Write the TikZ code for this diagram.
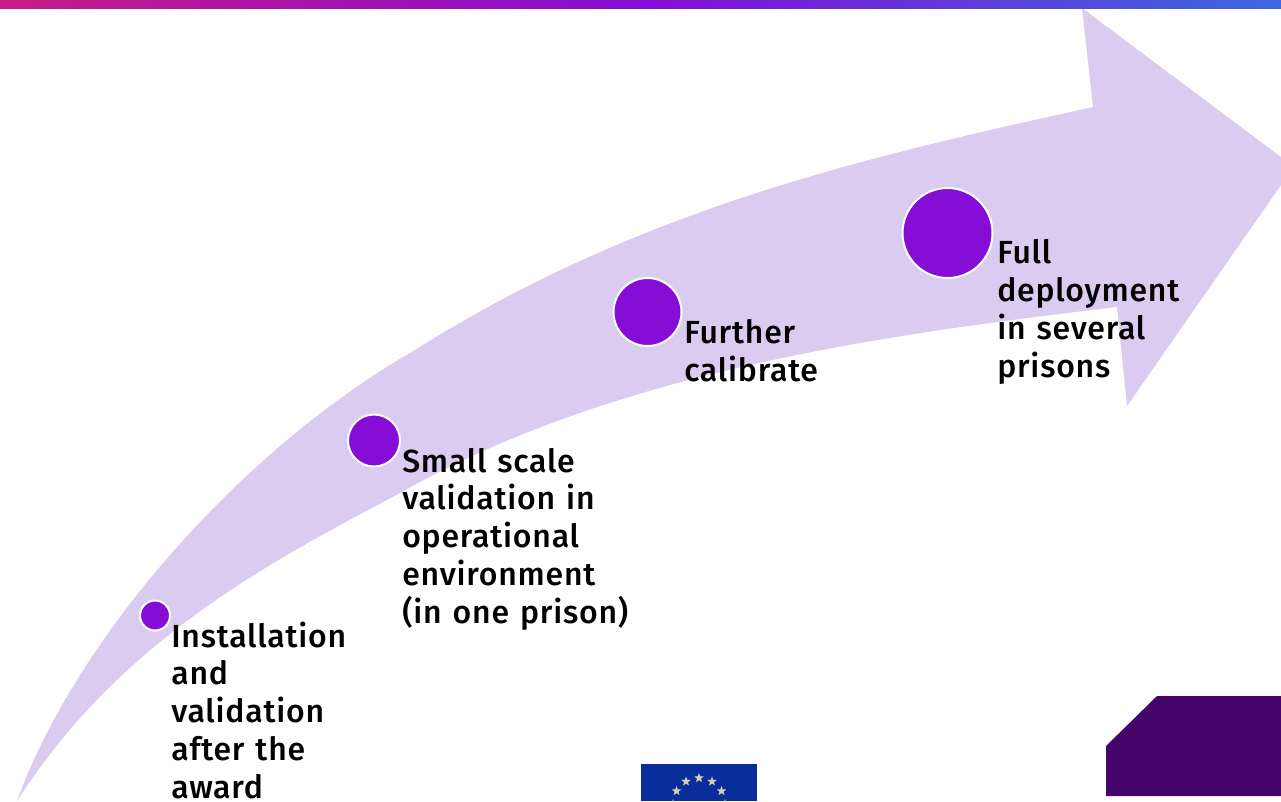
\documentclass[tikz,border=0pt]{standalone}
\usepackage{fontspec}
\setmainfont{Fira Sans Medium}[LetterSpace=2.4,WordSpace=1.25]
\usetikzlibrary{shapes.geometric}
\definecolor{arrowfill}{HTML}{DACCF0}
\definecolor{dotfill}{HTML}{850DD5}
\definecolor{cornerfill}{HTML}{44046A}
\definecolor{flagblue}{HTML}{0A2D9C}
\definecolor{starfill}{HTML}{D8D2A8}
\definecolor{barleft}{RGB}{200,27,133}
\definecolor{barright}{RGB}{59,104,224}
\tikzset{
  dot/.style={circle,draw=white,line width=1.5pt,fill=dotfill,inner sep=0pt,minimum size=#1*0.75pt},
  label/.style={anchor=base west,inner sep=0pt,align=left,text=black,font=\fontsize{24}{28.3}\selectfont},
  eustar/.style={star,star points=5,star point ratio=2.4,fill=starfill,inner sep=0pt,minimum size=7.5pt}
}
\begin{document}
\begin{tikzpicture}[x=0.75pt,y=-0.75pt]
\useasboundingbox (0,0) rectangle (1281,801);
\fill[arrowfill] (17,801)
  .. controls (75,640) and (240,450) .. (415,350)
  .. controls (640,208) and (870,156) .. (1093,107)
  -- (1082,8) -- (1281,157) -- (1281,185) -- (1127,406) -- (1117,307)
  .. controls (900,333) and (620,368) .. (400,493)
  .. controls (270,562) and (120,640) .. (17,801) -- cycle;
\shade[left color=barleft,right color=barright,middle color=dotfill] (0,0) rectangle (1281,8);
\node[dot=30] (d1) at (155,615.5) {};
\node[dot=52] (d2) at (374,440.5) {};
\node[dot=68] (d3) at (647.5,312) {};
\node[dot=90] (d4) at (947.5,233) {};
\node[label] (t1) at (171,798) {Installation\\and\\validation\\after the\\award};
\node[label] (t2) at (402,623) {Small scale\\validation in\\operational\\environment\\(in one prison)};
\node[label] (t3) at (684,381) {Further\\calibrate};
\node[label] (t4) at (997,377) {Full\\deployment\\in several\\prisons};
\fill[flagblue] (641,764) rectangle (757,801);
\begin{scope}
\clip (641,764) rectangle (757,801);
\foreach \a in {0,30,...,330}{\node[eustar] (s\a) at ({699+26*sin(\a)},{804-26*cos(\a)}) {};}
\end{scope}
\fill[cornerfill] (1106,746) -- (1157,696) -- (1281,696) -- (1281,796) -- (1106,796) -- cycle;
\end{tikzpicture}
\end{document}
